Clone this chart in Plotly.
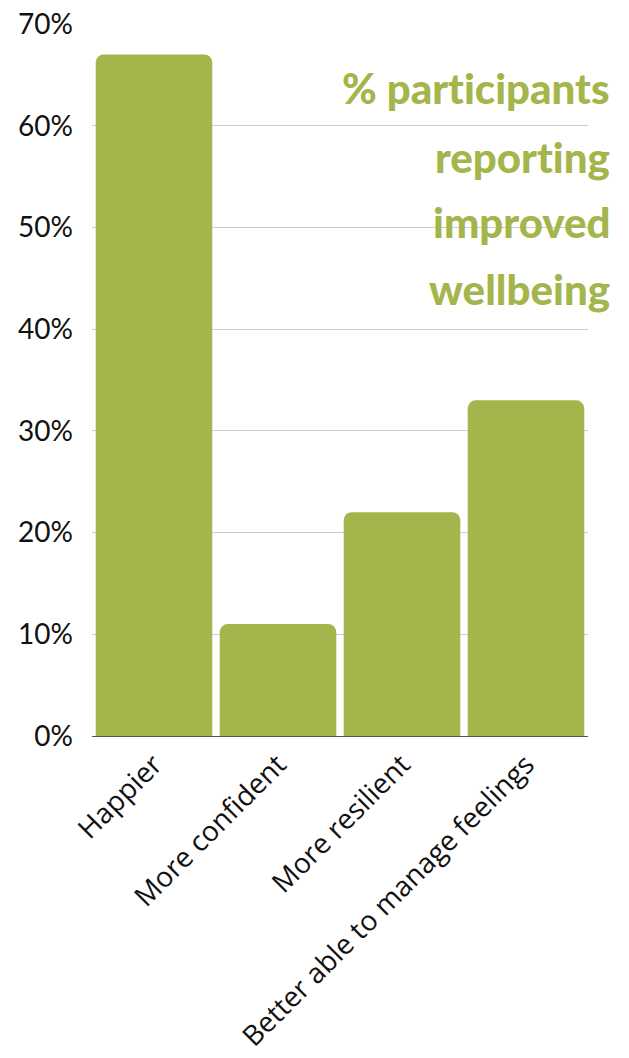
import plotly.graph_objects as go

categories = ["Happier", "More confident", "More resilient", "Better able to manage feelings"]
values = [0.67, 0.11, 0.22, 0.33]
tick_vals = [0, 0.1, 0.2, 0.3, 0.4, 0.5, 0.6, 0.7]
tick_text = ["0%", "10%", "20%", "30%", "40%", "50%", "60%", "70%"]
title_lines = ["% participants", "reporting", "improved", "wellbeing"]

GREEN = "#a3b54b"

fig = go.Figure(go.Bar(x=categories, y=values, marker=dict(color=GREEN, cornerradius=8, line=dict(width=0)),
                       hoverinfo="skip"))

L, R, T, B = 92, 41, 24, 322
W, H = 629, 1058
plot_h = H - T - B

fig.update_layout(
    width=W, height=H,
    margin=dict(l=L, r=R, t=T, b=B, autoexpand=False),
    paper_bgcolor="white", plot_bgcolor="white",
    bargap=0.06,
    showlegend=False,
    xaxis=dict(tickangle=-45, tickfont=dict(family="Open Sans", size=28, color="#111"),
               showgrid=False, showline=True, linecolor="#555", linewidth=1, ticks="",
               automargin=False),
    yaxis=dict(range=[0, 0.7], tickvals=tick_vals, ticktext=tick_text,
               tickfont=dict(family="Lato", size=28, color="#111"),
               showgrid=True, gridcolor="#cccccc", gridwidth=1, zeroline=False,
               ticklabelstandoff=18, automargin=False),
)

ys_px = [88, 157, 222, 289]
for line, ypx in zip(title_lines, ys_px):
    txt = line.replace("ti", "t\u200ci")
    fig.add_annotation(text=txt, xref="paper", yref="paper",
                       x=(612 - L) / (W - L - R), y=(H - B - ypx) / plot_h,
                       xanchor="right", yanchor="middle", showarrow=False,
                       font=dict(family="Lato", size=42, weight=900, color=GREEN))

fig.write_html("out.html", config={"displayModeBar": False},
               post_script="document.body.style.margin='0';document.body.style.overflow='hidden';")
